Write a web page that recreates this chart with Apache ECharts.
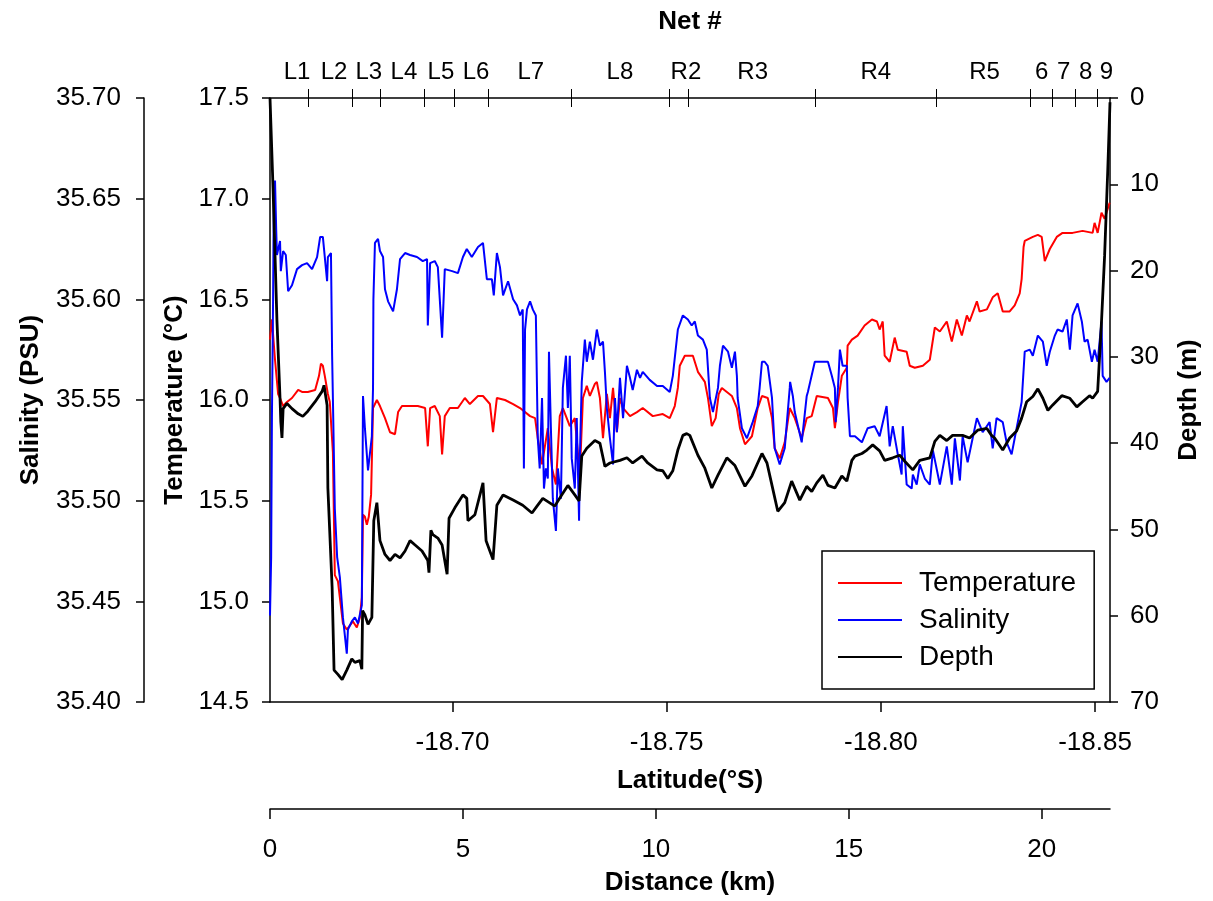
<!DOCTYPE html>
<html>
<head>
<meta charset="utf-8">
<script src="https://cdn.jsdelivr.net/npm/echarts@6/dist/echarts.min.js"></script>
<style>
html,body{margin:0;padding:0;background:#fff;}
#chart{width:1213px;height:901px;}
</style>
</head>
<body>
<div id="chart"></div>
<script>
// ---- Data (distance in km along transect) ----
const distMax = 21.77;
const latAtStart = -18.6574;
const latAtEnd = -18.8535;
const latTicks = [-18.70, -18.75, -18.80, -18.85];
const distTicks = [0, 5, 10, 15, 20];
const netNames = ['L1','L2','L3','L4','L5','L6','L7','L8','R2','R3','R4','R5','6','7','8','9'];
const netLabelKm = [0.70,1.66,2.56,3.47,4.43,5.34,6.76,9.07,10.78,12.51,15.70,18.52,20.00,20.57,21.14,21.68];
const netTickKm = [0.99,2.13,2.85,4.01,4.77,5.66,7.80,10.36,10.85,14.13,17.26,19.70,20.27,20.87,21.45];

const temperature = [
[0,16.30],[0.05,16.40],[0.13,16.20],[0.21,16.03],[0.26,16.01],[0.34,15.97],[0.44,15.99],[0.57,16.01],[0.73,16.05],[0.83,16.04],
[0.98,16.04],[1.17,16.05],[1.27,16.12],[1.32,16.18],[1.37,16.17],[1.42,16.12],[1.50,16.03],[1.55,15.99],[1.63,15.74],[1.68,15.13],
[1.76,15.10],[1.81,15.02],[1.89,14.89],[1.99,14.86],[2.07,14.88],[2.15,14.90],[2.25,14.87],[2.33,14.92],[2.38,15.02],[2.41,15.43],
[2.46,15.42],[2.51,15.38],[2.56,15.42],[2.62,15.53],[2.67,15.96],[2.77,16.00],[2.85,15.97],[2.98,15.91],[3.11,15.84],[3.24,15.83],
[3.32,15.94],[3.42,15.97],[3.58,15.97],[3.83,15.97],[4.02,15.96],[4.09,15.77],[4.15,15.96],[4.27,15.97],[4.40,15.92],[4.46,15.73],
[4.53,15.92],[4.66,15.96],[4.87,15.96],[5.05,16.01],[5.18,15.98],[5.39,16.02],[5.52,16.02],[5.70,15.98],[5.78,15.84],[5.88,16.01],
[6.09,16.00],[6.30,15.98],[6.48,15.96],[6.74,15.92],[6.87,15.91],[6.94,15.81],[7.05,15.68],[7.20,15.86],[7.31,15.66],[7.41,15.58],
[7.51,15.92],[7.59,15.96],[7.77,15.87],[7.90,15.91],[8.03,15.63],[8.11,16.01],[8.21,16.07],[8.29,16.02],[8.42,16.08],[8.47,16.09],
[8.55,16.01],[8.63,15.81],[8.73,16.03],[8.81,15.91],[8.89,16.06],[8.99,15.84],[9.07,16.01],[9.15,15.96],[9.33,15.92],[9.51,15.94],
[9.66,15.96],[9.92,15.92],[10.18,15.93],[10.36,15.91],[10.49,15.97],[10.57,16.06],[10.62,16.17],[10.75,16.22],[10.96,16.22],[11.09,16.14],
[11.27,16.09],[11.35,16.01],[11.45,15.87],[11.55,15.91],[11.63,16.03],[11.71,16.06],[11.97,16.02],[12.10,15.96],[12.18,15.86],[12.31,15.78],
[12.49,15.82],[12.64,15.96],[12.75,16.02],[12.90,16.01],[13.01,15.91],[13.08,15.76],[13.21,15.71],[13.34,15.79],[13.47,15.96],[13.60,15.91],
[13.78,15.81],[13.91,15.91],[14.04,15.92],[14.17,16.02],[14.46,16.01],[14.59,15.96],[14.64,15.86],[14.72,15.99],[14.82,16.12],[14.95,16.16],
[14.97,16.27],[15.08,16.30],[15.23,16.32],[15.41,16.37],[15.60,16.40],[15.73,16.39],[15.80,16.35],[15.88,16.39],[15.93,16.22],[16.06,16.19],
[16.19,16.31],[16.27,16.25],[16.50,16.24],[16.58,16.17],[16.71,16.16],[16.92,16.17],[17.10,16.20],[17.23,16.36],[17.36,16.34],[17.54,16.39],
[17.67,16.29],[17.80,16.40],[17.93,16.32],[18.06,16.42],[18.13,16.39],[18.32,16.49],[18.39,16.44],[18.58,16.45],[18.73,16.51],[18.86,16.53],
[18.99,16.44],[19.17,16.44],[19.30,16.47],[19.43,16.53],[19.48,16.60],[19.53,16.76],[19.56,16.79],[19.77,16.81],[19.90,16.82],[20.00,16.81],
[20.08,16.69],[20.21,16.75],[20.39,16.81],[20.54,16.83],[20.80,16.83],[21.06,16.84],[21.32,16.83],[21.37,16.88],[21.45,16.83],[21.55,16.93],
[21.63,16.90],[21.76,16.98]
];

const salinity = [
[0,35.443],[0.03,35.472],[0.05,35.541],[0.08,35.600],[0.10,35.655],[0.13,35.659],[0.16,35.635],[0.18,35.622],[0.26,35.629],[0.28,35.614],
[0.34,35.624],[0.41,35.622],[0.47,35.604],[0.57,35.607],[0.70,35.615],[0.83,35.617],[0.96,35.618],[1.09,35.615],[1.22,35.621],[1.30,35.631],
[1.37,35.631],[1.48,35.609],[1.50,35.621],[1.58,35.623],[1.61,35.572],[1.63,35.551],[1.68,35.496],[1.74,35.472],[1.81,35.462],[1.89,35.442],
[1.99,35.424],[2.02,35.436],[2.12,35.440],[2.20,35.442],[2.28,35.439],[2.38,35.448],[2.41,35.552],[2.46,35.536],[2.54,35.515],[2.64,35.532],
[2.67,35.556],[2.68,35.600],[2.72,35.628],[2.80,35.630],[2.85,35.624],[2.93,35.621],[2.98,35.605],[3.06,35.599],[3.19,35.594],[3.29,35.605],
[3.37,35.620],[3.50,35.623],[3.63,35.622],[3.81,35.621],[3.96,35.619],[4.07,35.620],[4.09,35.587],[4.15,35.618],[4.27,35.619],[4.35,35.616],
[4.46,35.581],[4.53,35.615],[4.72,35.614],[4.87,35.613],[5.00,35.621],[5.10,35.625],[5.23,35.621],[5.39,35.626],[5.52,35.628],[5.62,35.610],
[5.75,35.610],[5.80,35.602],[5.88,35.623],[5.96,35.616],[6.04,35.602],[6.17,35.609],[6.30,35.600],[6.40,35.597],[6.48,35.592],[6.55,35.595],
[6.58,35.516],[6.61,35.585],[6.66,35.595],[6.74,35.599],[6.81,35.595],[6.89,35.592],[6.94,35.531],[6.99,35.516],[7.05,35.551],[7.10,35.506],
[7.15,35.516],[7.20,35.511],[7.23,35.574],[7.28,35.536],[7.33,35.501],[7.41,35.485],[7.46,35.516],[7.54,35.501],[7.59,35.556],[7.67,35.572],
[7.72,35.546],[7.77,35.572],[7.82,35.521],[7.90,35.506],[7.95,35.541],[8.01,35.490],[8.03,35.521],[8.08,35.559],[8.16,35.580],[8.21,35.569],
[8.29,35.579],[8.37,35.570],[8.47,35.585],[8.55,35.577],[8.63,35.579],[8.68,35.564],[8.73,35.546],[8.81,35.531],[8.89,35.518],[8.94,35.551],
[8.99,35.534],[9.07,35.561],[9.15,35.541],[9.25,35.567],[9.33,35.561],[9.40,35.555],[9.51,35.565],[9.59,35.561],[9.66,35.564],[9.84,35.560],
[10.03,35.557],[10.18,35.557],[10.36,35.554],[10.44,35.562],[10.57,35.585],[10.70,35.592],[10.83,35.590],[10.93,35.587],[11.01,35.589],[11.09,35.582],
[11.22,35.580],[11.32,35.575],[11.40,35.551],[11.48,35.544],[11.61,35.556],[11.66,35.567],[11.74,35.577],[11.87,35.574],[11.97,35.566],[12.05,35.574],
[12.10,35.562],[12.12,35.551],[12.23,35.536],[12.36,35.531],[12.51,35.539],[12.64,35.547],[12.69,35.556],[12.75,35.569],[12.82,35.569],[12.90,35.567],
[13.01,35.551],[13.08,35.526],[13.21,35.518],[13.34,35.526],[13.47,35.556],[13.48,35.559],[13.55,35.552],[13.60,35.544],[13.78,35.529],[13.91,35.552],
[13.94,35.554],[14.12,35.569],[14.46,35.569],[14.56,35.562],[14.64,35.556],[14.66,35.539],[14.72,35.556],[14.77,35.575],[14.84,35.567],[14.95,35.567],
[14.97,35.551],[15.03,35.532],[15.16,35.532],[15.34,35.529],[15.49,35.536],[15.67,35.537],[15.80,35.532],[15.98,35.547],[16.06,35.527],[16.14,35.537],
[16.27,35.523],[16.37,35.513],[16.40,35.537],[16.50,35.508],[16.63,35.506],[16.66,35.513],[16.76,35.508],[16.84,35.518],[16.97,35.511],[17.10,35.508],
[17.18,35.525],[17.36,35.508],[17.54,35.527],[17.67,35.508],[17.75,35.531],[17.88,35.510],[17.95,35.532],[18.08,35.519],[18.21,35.531],[18.32,35.541],
[18.47,35.534],[18.65,35.539],[18.73,35.526],[18.83,35.541],[18.99,35.539],[19.09,35.529],[19.22,35.523],[19.30,35.531],[19.38,35.539],[19.48,35.549],
[19.56,35.574],[19.69,35.575],[19.77,35.572],[19.90,35.582],[20.03,35.579],[20.13,35.567],[20.21,35.574],[20.34,35.582],[20.41,35.585],[20.54,35.584],
[20.65,35.590],[20.73,35.575],[20.80,35.592],[20.93,35.598],[21.04,35.589],[21.11,35.579],[21.19,35.580],[21.30,35.569],[21.37,35.575],[21.45,35.569],
[21.55,35.589],[21.58,35.562],[21.68,35.559],[21.76,35.561]
];

const depth = [
[0,0],[0.08,10.6],[0.18,25.8],[0.26,34.8],[0.28,37.5],[0.31,39.4],[0.34,36.0],[0.44,35.4],[0.57,36.0],[0.73,36.6],
[0.85,36.9],[0.98,36.3],[1.17,35.2],[1.35,34.0],[1.40,33.3],[1.42,33.1],[1.48,35.6],[1.50,45.2],[1.61,56.7],[1.66,66.3],
[1.76,66.8],[1.87,67.4],[1.99,66.3],[2.12,65.0],[2.20,65.4],[2.33,65.2],[2.38,66.2],[2.40,59.4],[2.46,59.9],[2.54,61.0],
[2.64,60.2],[2.69,49.0],[2.77,46.9],[2.85,51.3],[2.98,52.9],[3.11,53.6],[3.24,52.9],[3.37,53.3],[3.50,52.5],[3.63,51.3],
[3.76,51.8],[3.94,52.5],[4.09,53.6],[4.12,55.0],[4.17,50.1],[4.22,50.6],[4.35,51.0],[4.46,51.8],[4.59,55.2],[4.64,48.7],
[4.79,47.5],[5.00,46.0],[5.10,46.4],[5.13,49.0],[5.31,48.3],[5.52,44.6],[5.60,51.3],[5.78,53.5],[5.88,47.2],[6.04,46.0],
[6.30,46.6],[6.55,47.2],[6.79,48.1],[6.92,47.3],[7.07,46.4],[7.38,47.3],[7.56,46.0],[7.72,44.9],[7.90,46.0],[8.01,46.7],
[8.08,41.5],[8.21,40.6],[8.42,39.7],[8.55,40.0],[8.68,42.7],[8.81,42.3],[9.07,42.0],[9.25,41.7],[9.40,42.3],[9.64,41.5],
[9.79,42.3],[10.03,43.1],[10.18,43.2],[10.31,44.1],[10.44,43.2],[10.57,40.8],[10.70,39.1],[10.80,38.9],[10.88,39.1],[11.09,41.4],
[11.27,42.9],[11.45,45.2],[11.61,43.7],[11.84,41.7],[12.05,42.6],[12.31,45.0],[12.49,43.8],[12.75,41.2],[12.88,42.3],[13.01,44.9],
[13.16,47.9],[13.34,46.9],[13.52,44.4],[13.73,46.6],[13.91,45.0],[14.04,45.6],[14.17,44.6],[14.33,43.7],[14.46,44.9],[14.64,45.2],
[14.82,43.8],[14.95,44.4],[15.08,42.0],[15.16,41.5],[15.34,41.2],[15.47,40.8],[15.62,40.2],[15.80,40.9],[15.93,42.0],[16.14,41.7],
[16.32,41.4],[16.45,42.1],[16.66,43.1],[16.84,42.0],[17.10,41.7],[17.23,39.8],[17.36,39.1],[17.54,39.7],[17.69,39.1],[17.95,39.1],
[18.13,39.4],[18.34,38.5],[18.58,38.3],[18.70,39.1],[18.78,39.4],[18.99,40.8],[19.17,39.4],[19.35,38.6],[19.48,37.1],[19.61,35.2],
[19.77,34.6],[19.90,33.7],[20.03,34.8],[20.16,36.2],[20.28,35.6],[20.52,34.5],[20.73,34.8],[20.91,35.8],[21.06,35.2],[21.24,34.5],
[21.32,34.8],[21.45,34.0],[21.55,25.9],[21.63,18.3],[21.71,8.6],[21.77,0.5]
];

// ---- Chart ----
const FONT = '"Liberation Sans", Arial, sans-serif';
const black = '#000';
const chart = echarts.init(document.getElementById('chart'), null, {renderer: 'canvas'});

const nameStyle = {fontFamily: FONT, fontSize: 26, fontWeight: 'bold', color: black};
const labelStyle = {fontFamily: FONT, fontSize: 26, color: black};

chart.setOption({
  animation: false,
  backgroundColor: '#fff',
  grid: {left: 270, right: 103, top: 98, bottom: 196, containLabel: false},
  legend: {
    orient: 'vertical',
    left: 822, top: 551,
    padding: [17, 18, 17, 16],
    itemGap: 7,
    itemWidth: 64,
    itemHeight: 2,
    icon: 'rect',
    borderColor: black,
    borderWidth: 1.5,
    backgroundColor: '#fff',
    textStyle: {fontFamily: FONT, fontSize: 28, color: black, lineHeight: 30, padding: [0, 0, 0, 12]},
    data: ['Temperature', 'Salinity', 'Depth']
  },
  xAxis: [
    { // distance
      type: 'value', gridIndex: 0, position: 'bottom', offset: 107,
      min: 0, max: distMax,
      name: 'Distance (km)', nameLocation: 'middle', nameGap: 61, nameTextStyle: nameStyle,
      axisLine: {show: true, onZero: false, lineStyle: {color: black, width: 1.5}},
      axisTick: {show: true, length: 10, lineStyle: {color: black, width: 1.5}, customValues: distTicks},
      axisLabel: {show: true, margin: 28, customValues: distTicks, formatter: v => String(v), ...labelStyle},
      splitLine: {show: false}
    },
    { // latitude
      type: 'value', gridIndex: 0, position: 'bottom', offset: 0,
      min: latAtEnd, max: latAtStart, inverse: true,
      name: 'Latitude(°S)', nameLocation: 'middle', nameGap: 66, nameTextStyle: nameStyle,
      axisLine: {show: true, onZero: false, lineStyle: {color: black, width: 1.5}},
      axisTick: {show: true, length: 10, lineStyle: {color: black, width: 1.5}, customValues: latTicks},
      axisLabel: {show: true, margin: 28, customValues: latTicks, formatter: v => v.toFixed(2), ...labelStyle},
      splitLine: {show: false}
    },
    { // net # (top, outward ticks + labels)
      type: 'value', gridIndex: 0, position: 'top', offset: 0,
      min: 0, max: distMax,
      name: 'Net #', nameLocation: 'middle', nameGap: 63, nameTextStyle: nameStyle,
      axisLine: {show: true, onZero: false, lineStyle: {color: black, width: 1.5}},
      axisTick: {show: true, length: 9, lineStyle: {color: black, width: 1}, customValues: netTickKm},
      axisLabel: {show: true, margin: 14, customValues: netLabelKm,
        formatter: v => { const i = netLabelKm.indexOf(v); return i >= 0 ? netNames[i] : ''; },
        fontFamily: FONT, fontSize: 24, color: black},
      splitLine: {show: false}
    },
    { // net # inward ticks
      type: 'value', gridIndex: 0, position: 'top', offset: 0,
      min: 0, max: distMax,
      axisLine: {show: false, onZero: false},
      axisTick: {show: true, inside: true, length: 9, lineStyle: {color: black, width: 1}, customValues: netTickKm},
      axisLabel: {show: false},
      splitLine: {show: false}
    }
  ],
  yAxis: [
    { // temperature
      type: 'value', gridIndex: 0, position: 'left', offset: 0,
      min: 14.5, max: 17.5, interval: 0.5,
      name: 'Temperature (°C)', nameLocation: 'middle', nameGap: 82, nameTextStyle: nameStyle,
      axisLine: {show: true, onZero: false, lineStyle: {color: black, width: 1.5}},
      axisTick: {show: true, length: 8, lineStyle: {color: black, width: 1.5}},
      axisLabel: {margin: 21, formatter: v => v.toFixed(1), ...labelStyle},
      splitLine: {show: false}
    },
    { // salinity
      type: 'value', gridIndex: 0, position: 'left', offset: 126,
      min: 35.40, max: 35.70, interval: 0.05,
      name: 'Salinity (PSU)', nameLocation: 'middle', nameGap: 100, nameTextStyle: nameStyle,
      axisLine: {show: true, onZero: false, lineStyle: {color: black, width: 1.5}},
      axisTick: {show: true, length: 8, lineStyle: {color: black, width: 1.5}},
      axisLabel: {margin: 23, formatter: v => v.toFixed(2), ...labelStyle},
      splitLine: {show: false}
    },
    { // depth
      type: 'value', gridIndex: 0, position: 'right', offset: 0,
      min: 0, max: 70, interval: 10, inverse: true,
      name: 'Depth (m)', nameLocation: 'middle', nameGap: 66, nameTextStyle: nameStyle,
      axisLine: {show: true, onZero: false, lineStyle: {color: black, width: 1.5}},
      axisTick: {show: true, length: 8, lineStyle: {color: black, width: 1.5}},
      axisLabel: {margin: 20, formatter: v => String(v), ...labelStyle},
      splitLine: {show: false}
    }
  ],
  series: [
    {name: 'Temperature', type: 'line', xAxisIndex: 0, yAxisIndex: 0, data: temperature,
     symbol: 'none', showSymbol: false, color: '#ff0000', lineStyle: {color: '#ff0000', width: 2}, z: 2},
    {name: 'Salinity', type: 'line', xAxisIndex: 0, yAxisIndex: 1, data: salinity,
     symbol: 'none', showSymbol: false, color: '#0000ff', lineStyle: {color: '#0000ff', width: 2}, z: 3},
    {name: 'Depth', type: 'line', xAxisIndex: 0, yAxisIndex: 2, data: depth,
     symbol: 'none', showSymbol: false, color: '#000000', lineStyle: {color: '#000000', width: 2.8}, z: 4}
  ]
});
</script>
</body>
</html>
